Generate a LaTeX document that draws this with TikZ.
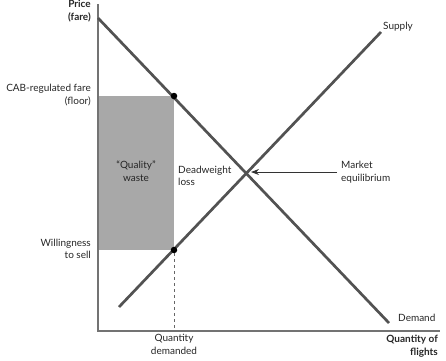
\documentclass[tikz,border=0pt]{standalone}
\usepackage{fontspec}
\setmainfont{Lato}
\usetikzlibrary{arrows.meta}
\begin{document}
\begin{tikzpicture}[x=1pt,y=-1pt,
  curve/.style={draw=black!68,line width=2.7pt},
  axis/.style={draw=black!55,line width=1.1pt},
  lbl/.style={font=\fontsize{10}{12.5}\selectfont,text=black!85,inner sep=0pt,align=right},
  blbl/.style={lbl,font=\fontsize{10}{12.5}\selectfont\bfseries},
  dot/.style={circle,fill=black,inner sep=0pt,minimum size=6.5pt}]
\useasboundingbox (0,0) rectangle (446,360);
% shaded "quality" waste region
\fill[black!34] (98,96) rectangle (174,250);
% axes
\coordinate (O) at (98,331);
\coordinate (ytop) at (98,4);
\coordinate (xend) at (440,331);
\draw[axis] (ytop) -- (O) -- (xend);
% demand and supply curves
\coordinate (d1) at (98,18);
\coordinate (d2) at (389,323);
\coordinate (s1) at (119,307);
\coordinate (s2) at (381,32);
\draw[curve] (d1) -- (d2);
\draw[curve] (s1) -- (s2);
% points at the regulated fare
\node[dot] (pd) at (174,96) {};
\node[dot] (ps) at (174,250) {};
\coordinate (qd) at (174,331);
\draw[black!60,line width=0.9pt,dash pattern=on 3pt off 3pt] (ps) -- (qd);
% equilibrium arrow
\coordinate (eq) at (251,172);
\coordinate (eqtail) at (337,172);
\draw[black!80,line width=0.8pt,-{Stealth[length=8pt,width=6pt]}] (eqtail) -- (eq);
% labels
\node[blbl,anchor=north east] (price) at (91,0) {Price\\(fare)};
\node[lbl,anchor=east] (cab) at (91,95) {CAB-regulated fare\\(floor)};
\node[lbl,anchor=east] (will) at (91,249) {Willingness\\to sell};
\node[lbl,align=center] (qual) at (136,171) {``Quality''\\waste};
\node[lbl,align=left,anchor=west] (dwl) at (178,176) {Deadweight\\loss};
\node[lbl,align=left,anchor=west] (mkt) at (341,172) {Market\\equilibrium};
\node[lbl,anchor=west] (sup) at (383,27) {Supply};
\node[lbl,anchor=west] (dem) at (398,318) {Demand};
\node[lbl,align=center,anchor=north] (qdl) at (174,334) {Quantity\\demanded};
\node[blbl,anchor=north east] (qf) at (438,335) {Quantity of\\flights};
\end{tikzpicture}
\end{document}
